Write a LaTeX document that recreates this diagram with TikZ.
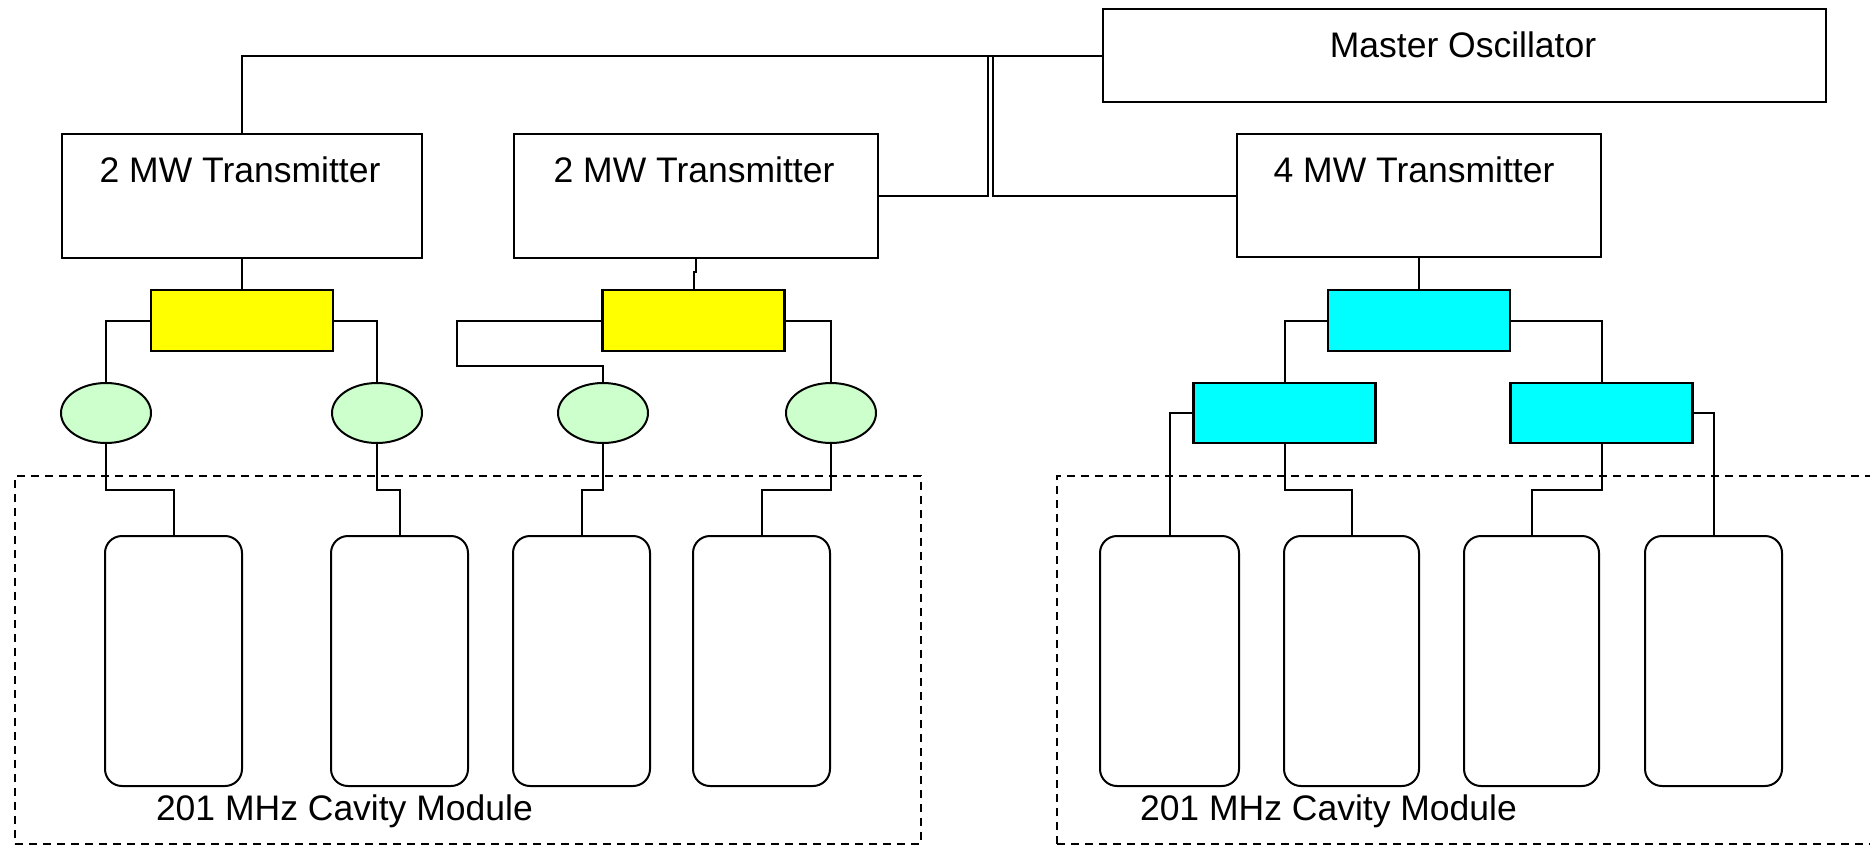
\documentclass[tikz,border=0pt]{standalone}
\usepackage{fontspec}
\setmainfont{Liberation Sans}
\usetikzlibrary{shapes.geometric}
\definecolor{ylw}{HTML}{FFFF00}
\definecolor{cyn}{HTML}{00FFFF}
\definecolor{lgreen}{HTML}{CCFFCC}
\tikzset{
  wire/.style={line width=2pt, black},
  box/.style={draw, line width=2.4pt, rectangle, inner sep=0pt, outer sep=0pt},
  ybox/.style={box, fill=ylw, minimum width=182pt, minimum height=61pt},
  cbox/.style={box, fill=cyn, minimum width=182pt, minimum height=60pt},
  circ/.style={draw, line width=2pt, ellipse, fill=lgreen, minimum width=90pt, minimum height=60pt, inner sep=0pt, outer sep=0pt},
  cav/.style={draw, line width=2pt, rectangle, rounded corners=17pt, minimum width=137pt, minimum height=250pt, inner sep=0pt, outer sep=0pt},
  modbox/.style={draw, line width=2pt, dash pattern=on 8pt off 6pt, rectangle, inner sep=0pt, outer sep=0pt},
  txt/.style={font=\fontsize{35.5}{40}\selectfont, inner sep=0pt, outer sep=0pt}
}
\begin{document}
\begin{tikzpicture}[x=1pt,y=-1pt]
\useasboundingbox (0,0) rectangle (1870,846);
\clip (0,0) rectangle (1870,846);
\fill[white] (0,0) rectangle (1870,846);

% module boxes
\node[modbox, minimum width=906pt, minimum height=368pt] (mod1) at (468,660) {};
\node[modbox, minimum width=840pt, minimum height=368pt] (mod2) at (1477,660) {};

% top boxes
\node[box, minimum width=723pt, minimum height=93pt] (mo) at (1464.5,55.5) {};
\node[txt, anchor=base] at (1463,57) {Master Oscillator};
\node[box, minimum width=360pt, minimum height=124pt] (t1) at (242,196) {};
\node[txt, anchor=base] at (240,182) {2 MW Transmitter};
\node[box, minimum width=364pt, minimum height=124pt] (t2) at (696,196) {};
\node[txt, anchor=base] at (694,182) {2 MW Transmitter};
\node[box, minimum width=364pt, minimum height=123pt] (t4) at (1419,195.5) {};
\node[txt, anchor=base] at (1414,182) {4 MW Transmitter};

% splitters
\node[ybox] (y1) at (242,320.5) {};
\node[ybox] (y2) at (693.5,320.5) {};
\node[cbox, minimum height=61pt] (c1) at (1419,320.5) {};
\node[cbox] (c2) at (1284.5,413) {};
\node[cbox] (c3) at (1601.5,413) {};

% circulators
\node[circ] (e1) at (106,413) {};
\node[circ] (e2) at (377,413) {};
\node[circ] (e3) at (603,413) {};
\node[circ] (e4) at (831,413) {};

% cavities
\node[cav] (cav1) at (173.5,661) {};
\node[cav] (cav2) at (399.5,661) {};
\node[cav] (cav3) at (581.5,661) {};
\node[cav] (cav4) at (761.5,661) {};
\node[cav, minimum width=139pt] (cav5) at (1169.5,661) {};
\node[cav, minimum width=135pt] (cav6) at (1351.5,661) {};
\node[cav, minimum width=135pt] (cav7) at (1531.5,661) {};
\node[cav] (cav8) at (1713.5,661) {};

\node[txt, anchor=base west] at (156,820) {201 MHz Cavity Module};
\node[txt, anchor=base west] at (1140,820) {201 MHz Cavity Module};

% connectors
\coordinate (j1) at (988,56);
\coordinate (j2) at (993,56);
\draw[wire] (t1.north) |- (mo.west);
\draw[wire] (t2.east) -| (j1);
\draw[wire] (t4.west) -| (j2);

\draw[wire] (t1.south) -- (y1.north);
\draw[wire] (t2.south) -- ++(0,14) -| (y2.north);
\draw[wire] (t4.south) -- (c1.north);

\draw[wire] (y1.west) -| (e1.north);
\draw[wire] (y1.east) -| (e2.north);
\draw[wire] (y2.west) -- ++(-146,0) -- ++(0,45.5) -| (e3.north);
\draw[wire] (y2.east) -| (e4.north);

\draw[wire] (e1.south) -- ++(0,47) -| (cav1.north);
\draw[wire] (e2.south) -- ++(0,47) -| (cav2.north);
\draw[wire] (e3.south) -- ++(0,47) -| (cav3.north);
\draw[wire] (e4.south) -- ++(0,47) -| (cav4.north);

\draw[wire] (c1.west) -| (c2.north);
\draw[wire] (c1.east) -| (c3.north);
\draw[wire] (c2.west) -| (cav5.north);
\draw[wire] (c2.south) -- ++(0,47) -| (cav6.north);
\draw[wire] (c3.south) -- ++(0,47) -| (cav7.north);
\draw[wire] (c3.east) -| (cav8.north);
\end{tikzpicture}
\end{document}
